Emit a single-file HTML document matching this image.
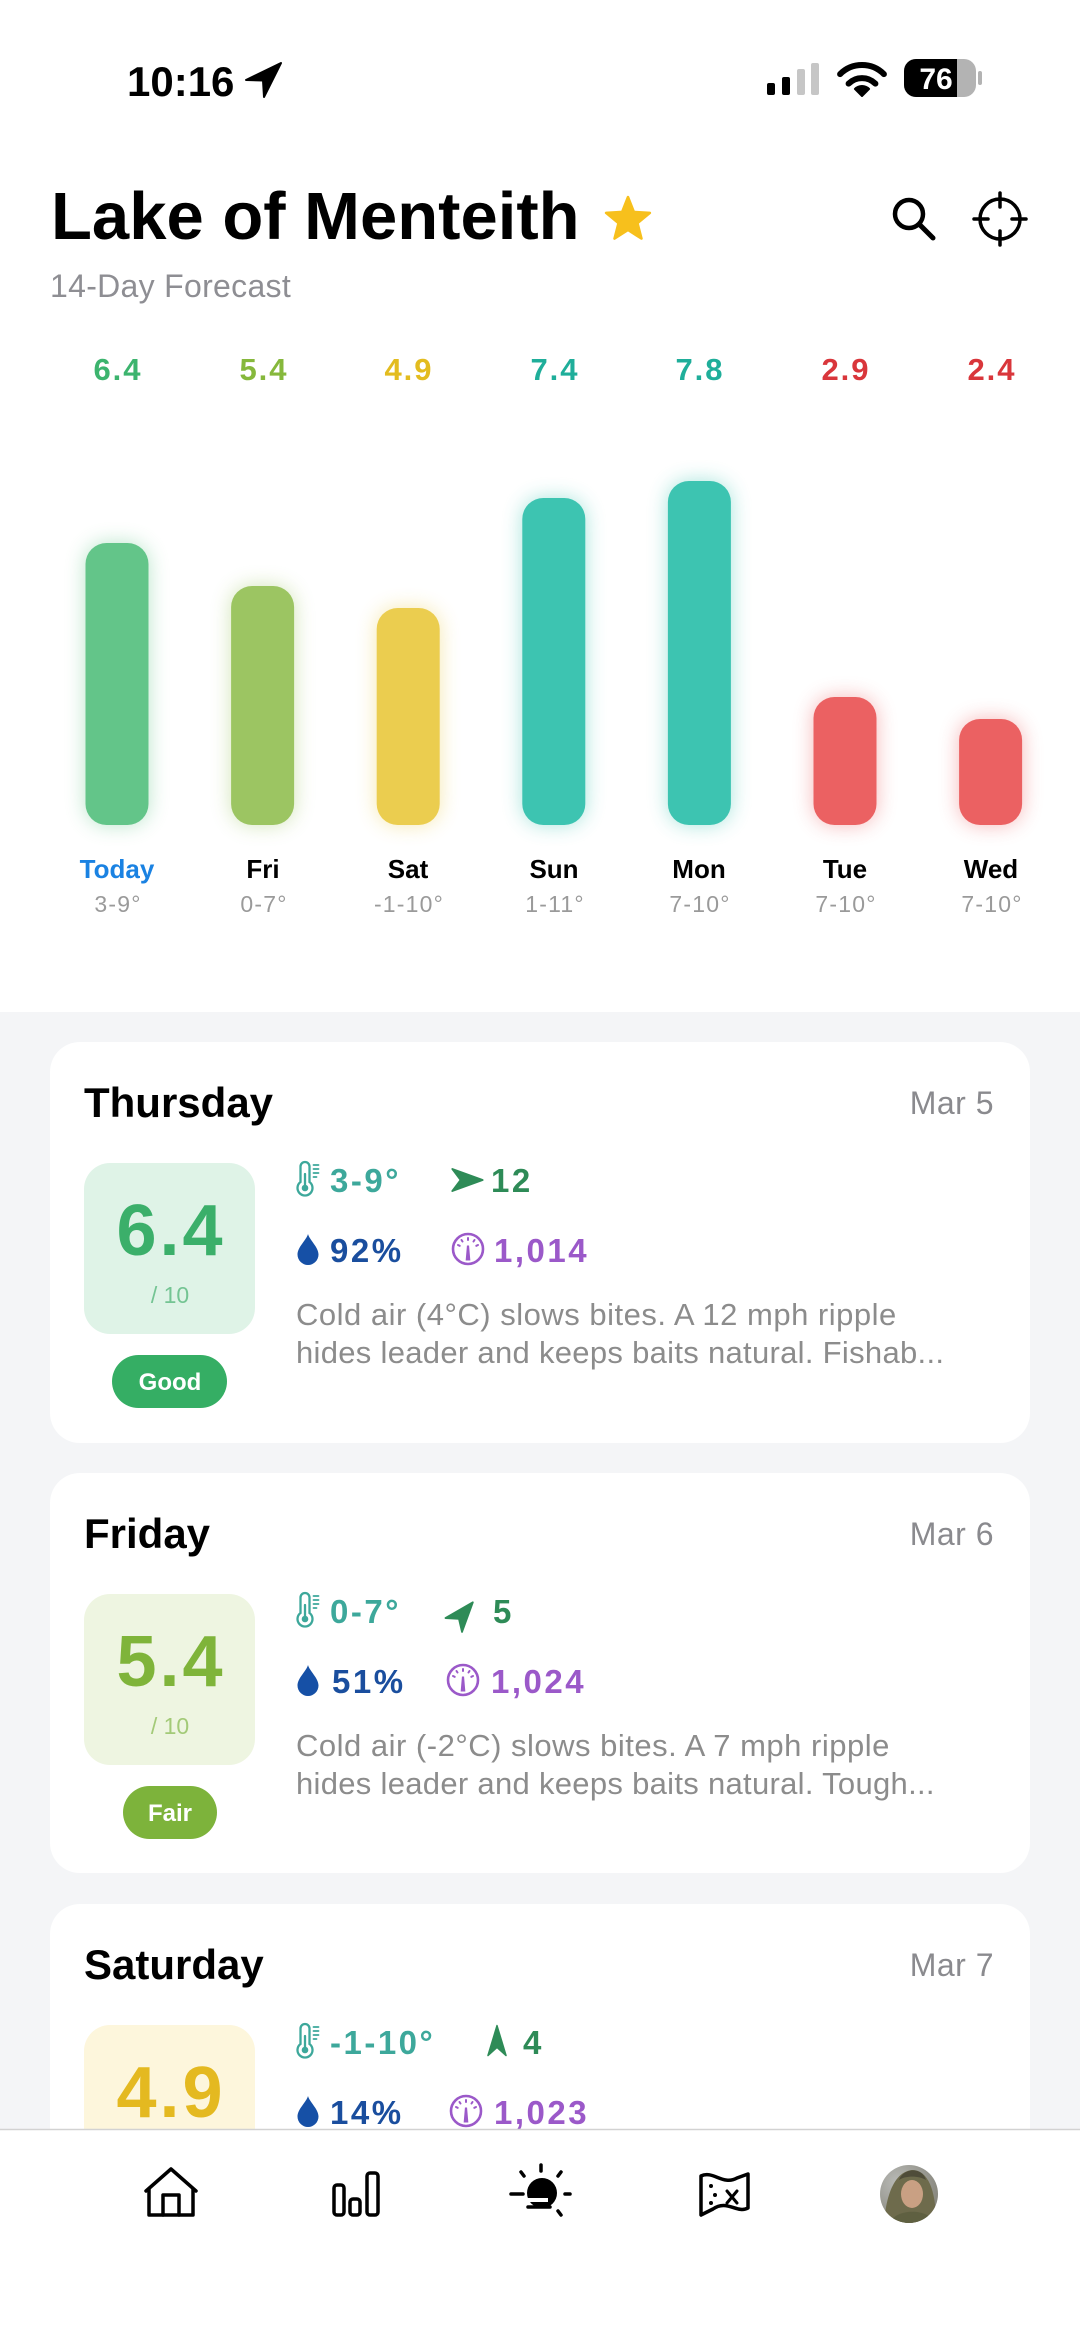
<!DOCTYPE html>
<html><head><meta charset="utf-8">
<style>
html,body{margin:0;padding:0;background:#fff;}
body{width:1080px;height:2346px;overflow:hidden;}
svg{display:block;}
text{font-family:"Liberation Sans",Arial,sans-serif;}
</style></head><body>
<svg width="1080" height="2346" viewBox="0 0 1080 2346" xmlns="http://www.w3.org/2000/svg">
<defs>
  <filter id="glow" x="-80%" y="-40%" width="260%" height="180%"><feGaussianBlur stdDeviation="10"/></filter>
  <clipPath id="bat"><rect x="904" y="59" width="53" height="38"/></clipPath>
  <clipPath id="av"><circle cx="909" cy="2194" r="29"/></clipPath>
  <radialGradient id="avbg" cx="0.3" cy="0.3" r="0.9">
    <stop offset="0" stop-color="#b9bab6"/><stop offset="1" stop-color="#7d7c72"/>
  </radialGradient>
  <g id="thermo" fill="none" stroke="#3DA89B" stroke-width="2.3" stroke-linecap="round">
    <path d="M3.5,20 V4.5 A4.5,4.5 0 0 1 12.5,4.5 V20 A7.5,7.5 0 1 1 3.5,20 Z"/>
    <line x1="8" y1="12" x2="8" y2="25"/>
    <circle cx="8" cy="26" r="3.3" fill="#3DA89B" stroke="none"/>
    <line x1="16.5" y1="3" x2="21.5" y2="3" stroke-width="1.8"/>
    <line x1="16.5" y1="7" x2="21.5" y2="7" stroke-width="1.8"/>
    <line x1="16.5" y1="11" x2="21.5" y2="11" stroke-width="1.8"/>
    <line x1="16.5" y1="15" x2="19.5" y2="15" stroke-width="1.8"/>
  </g>
  <path id="drop" d="M10.5,0 C12,6 21,13 21,20.5 A10.5,10.5 0 0 1 0,20.5 C0,13 9,6 10.5,0 Z" fill="#1650A6"/>
  <path id="arrow" d="M-16,-12 L17,0 L-16,12 L-7,0 Z" fill="#2E8B57" stroke="#2E8B57" stroke-width="2" stroke-linejoin="round"/>
  <g id="gauge" fill="none" stroke="#9B59C9" stroke-linecap="round">
    <circle cx="0" cy="0" r="15" stroke-width="2.6"/>
    <line x1="0" y1="-11" x2="0" y2="-9" stroke-width="2"/>
    <line x1="-6.5" y1="-9" x2="-5.5" y2="-7.5" stroke-width="2"/>
    <line x1="6.5" y1="-9" x2="5.5" y2="-7.5" stroke-width="2"/>
    <line x1="-10" y1="-4" x2="-8.3" y2="-3.2" stroke-width="2"/>
    <line x1="10" y1="-4" x2="8.3" y2="-3.2" stroke-width="2"/>
    <path d="M-1.8,11 L1.8,11 L0.6,-3 L-0.6,-3 Z" fill="#9B59C9" stroke-width="1"/>
  </g>
</defs>

<!-- white top area -->
<rect x="0" y="0" width="1080" height="1012" fill="#ffffff"/>

<!-- status bar -->
<text x="127" y="96" font-size="42" font-weight="bold" fill="#000">10:16</text>
<polygon points="281,63 246,80 263,80.5 264,97" fill="#000" stroke="#000" stroke-width="2" stroke-linejoin="round"/>
<rect x="767" y="83" width="8" height="12" rx="2" fill="#000"/>
<rect x="782" y="77" width="8" height="18" rx="2" fill="#000"/>
<rect x="797" y="69" width="8" height="26" rx="2" fill="#c6c6c6"/>
<rect x="811" y="63" width="8" height="32" rx="2" fill="#c6c6c6"/>
<path d="M840.1,74.1 A31,31 0 0 1 883.9,74.1" fill="none" stroke="#000" stroke-width="6" stroke-linecap="round"/>
<path d="M848.6,83.6 A19,19 0 0 1 875.4,83.6" fill="none" stroke="#000" stroke-width="6" stroke-linecap="round"/>
<path d="M862,96 L854.9,88.9 A10,10 0 0 1 869.1,88.9 Z" fill="#000" stroke="#000" stroke-width="2" stroke-linejoin="round"/>
<rect x="904" y="59" width="72" height="38" rx="12" fill="#b3b3b3"/>
<rect x="904" y="59" width="72" height="38" rx="12" fill="#000" clip-path="url(#bat)"/>
<rect x="978" y="71" width="4" height="14" rx="2" fill="#b3b3b3"/>
<text x="936" y="89" font-size="30" font-weight="bold" fill="#fff" text-anchor="middle">76</text>

<!-- header -->
<text x="51" y="239" font-size="67" font-weight="bold" fill="#000">Lake of Menteith</text>
<polygon points="628,197 633.9,211.9 649.9,212.9 637.5,223.1 641.5,238.6 628,230 614.5,238.6 618.5,223.1 606.1,212.9 622.1,211.9" fill="#F7C01C" stroke="#F7C01C" stroke-width="2.5" stroke-linejoin="round"/>
<circle cx="909" cy="214" r="14" fill="none" stroke="#000" stroke-width="4.5"/>
<line x1="919.5" y1="224.5" x2="933" y2="238" stroke="#000" stroke-width="5" stroke-linecap="round"/>
<circle cx="1000" cy="219" r="20" fill="none" stroke="#000" stroke-width="3.5"/>
<g stroke="#000" stroke-width="3.5" stroke-linecap="round">
  <line x1="1000" y1="193" x2="1000" y2="207"/>
  <line x1="1000" y1="231" x2="1000" y2="245"/>
  <line x1="974" y1="219" x2="988" y2="219"/>
  <line x1="1012" y1="219" x2="1026" y2="219"/>
</g>
<text x="50" y="297" font-size="32" fill="#8e8e93" letter-spacing="0.3">14-Day Forecast</text>

<!-- score numbers -->
<g font-size="31" font-weight="bold" text-anchor="middle" letter-spacing="2">
  <text x="118" y="380" fill="#3CB46E">6.4</text>
  <text x="264" y="380" fill="#86B83C">5.4</text>
  <text x="409" y="380" fill="#E3BC1F">4.9</text>
  <text x="555" y="380" fill="#1FAE9A">7.4</text>
  <text x="700" y="380" fill="#1FAE9A">7.8</text>
  <text x="846" y="380" fill="#D9363B">2.9</text>
  <text x="992" y="380" fill="#D9363B">2.4</text>
</g>

<!-- bars glow -->
<g filter="url(#glow)" opacity="0.45">
  <rect x="85.5" y="543" width="63" height="282" rx="21" fill="#63C589"/>
  <rect x="231.1" y="586" width="63" height="239" rx="21" fill="#9CC562"/>
  <rect x="376.7" y="608" width="63" height="217" rx="21" fill="#EBCD4F"/>
  <rect x="522.3" y="498" width="63" height="327" rx="21" fill="#3DC4B1"/>
  <rect x="667.9" y="481" width="63" height="344" rx="21" fill="#3DC4B1"/>
  <rect x="813.5" y="697" width="63" height="128" rx="21" fill="#EB6162"/>
  <rect x="959.1" y="719" width="63" height="106" rx="21" fill="#EB6162"/>
</g>
<rect x="85.5" y="543" width="63" height="282" rx="21" fill="#63C589"/>
<rect x="231.1" y="586" width="63" height="239" rx="21" fill="#9CC562"/>
<rect x="376.7" y="608" width="63" height="217" rx="21" fill="#EBCD4F"/>
<rect x="522.3" y="498" width="63" height="327" rx="21" fill="#3DC4B1"/>
<rect x="667.9" y="481" width="63" height="344" rx="21" fill="#3DC4B1"/>
<rect x="813.5" y="697" width="63" height="128" rx="21" fill="#EB6162"/>
<rect x="959.1" y="719" width="63" height="106" rx="21" fill="#EB6162"/>

<!-- day labels -->
<g font-size="26" font-weight="bold" text-anchor="middle">
  <text x="117" y="878" fill="#1A82E2">Today</text>
  <text x="263" y="878" fill="#000">Fri</text>
  <text x="408" y="878" fill="#000">Sat</text>
  <text x="554" y="878" fill="#000">Sun</text>
  <text x="699" y="878" fill="#000">Mon</text>
  <text x="845" y="878" fill="#000">Tue</text>
  <text x="991" y="878" fill="#000">Wed</text>
</g>
<g font-size="23" text-anchor="middle" fill="#9a9a9a" letter-spacing="1.2">
  <text x="118" y="912">3-9°</text>
  <text x="264" y="912">0-7°</text>
  <text x="409" y="912">-1-10°</text>
  <text x="555" y="912">1-11°</text>
  <text x="700" y="912">7-10°</text>
  <text x="846" y="912">7-10°</text>
  <text x="992" y="912">7-10°</text>
</g>

<!-- gray area -->
<rect x="0" y="1012" width="1080" height="1334" fill="#F4F5F7"/>

<!-- Card 1 -->
<rect x="50" y="1042" width="980" height="401" rx="30" fill="#fff"/>
<text x="84" y="1117" font-size="42" font-weight="bold" fill="#000">Thursday</text>
<text x="994" y="1114" font-size="32" fill="#8a8a8e" text-anchor="end" letter-spacing="0.5">Mar 5</text>
<rect x="84" y="1163" width="171" height="171" rx="26" fill="#DFF3E7"/>
<text x="171" y="1255" font-size="72" font-weight="bold" fill="#3BAF6A" text-anchor="middle" letter-spacing="3">6.4</text>
<text x="170" y="1303" font-size="23" fill="#74C493" text-anchor="middle">/ 10</text>
<rect x="112" y="1355" width="115" height="53" rx="26.5" fill="#35AE64"/>
<text x="170" y="1390" font-size="24" font-weight="bold" fill="#fff" text-anchor="middle">Good</text>
<use href="#thermo" x="297" y="1162"/>
<text x="330" y="1192" font-size="33" font-weight="bold" fill="#3DA89B" letter-spacing="2.5">3-9°</text>
<use href="#arrow" transform="translate(467,1180) scale(0.92)"/>
<text x="491" y="1192" font-size="33" font-weight="bold" fill="#2E8B57" letter-spacing="2.5">12</text>
<use href="#drop" x="297.5" y="1234"/>
<text x="330" y="1262" font-size="33" font-weight="bold" fill="#1A4E9E" letter-spacing="2.5">92%</text>
<use href="#gauge" transform="translate(468,1249)"/>
<text x="494" y="1262" font-size="33" font-weight="bold" fill="#9B59C9" letter-spacing="2.5">1,014</text>
<text x="296" y="1325" font-size="31" fill="#8c8c8c" letter-spacing="0.5">Cold air (4°C) slows bites. A 12 mph ripple</text>
<text x="296" y="1363" font-size="31" fill="#8c8c8c" letter-spacing="0.3">hides leader and keeps baits natural. Fishab...</text>

<!-- Card 2 -->
<rect x="50" y="1473" width="980" height="400" rx="30" fill="#fff"/>
<text x="84" y="1548" font-size="42" font-weight="bold" fill="#000">Friday</text>
<text x="994" y="1545" font-size="32" fill="#8a8a8e" text-anchor="end" letter-spacing="0.5">Mar 6</text>
<rect x="84" y="1594" width="171" height="171" rx="26" fill="#EEF5E1"/>
<text x="171" y="1686" font-size="72" font-weight="bold" fill="#7FB43A" text-anchor="middle" letter-spacing="3">5.4</text>
<text x="170" y="1734" font-size="23" fill="#A3CA78" text-anchor="middle">/ 10</text>
<rect x="123" y="1786" width="94" height="53" rx="26.5" fill="#7DB33B"/>
<text x="170" y="1821" font-size="24" font-weight="bold" fill="#fff" text-anchor="middle">Fair</text>
<use href="#thermo" x="297" y="1593"/>
<text x="330" y="1623" font-size="33" font-weight="bold" fill="#3DA89B" letter-spacing="2.5">0-7°</text>
<use href="#arrow" transform="translate(463,1614) rotate(-50) scale(0.9)"/>
<text x="493" y="1623" font-size="33" font-weight="bold" fill="#2E8B57" letter-spacing="2.5">5</text>
<use href="#drop" x="297.5" y="1665"/>
<text x="332" y="1693" font-size="33" font-weight="bold" fill="#1A4E9E" letter-spacing="2.5">51%</text>
<use href="#gauge" transform="translate(463,1680)"/>
<text x="491" y="1693" font-size="33" font-weight="bold" fill="#9B59C9" letter-spacing="2.5">1,024</text>
<text x="296" y="1756" font-size="31" fill="#8c8c8c" letter-spacing="0.5">Cold air (-2°C) slows bites. A 7 mph ripple</text>
<text x="296" y="1794" font-size="31" fill="#8c8c8c" letter-spacing="0.3">hides leader and keeps baits natural. Tough...</text>

<!-- Card 3 -->
<rect x="50" y="1904" width="980" height="400" rx="30" fill="#fff"/>
<text x="84" y="1979" font-size="42" font-weight="bold" fill="#000">Saturday</text>
<text x="994" y="1976" font-size="32" fill="#8a8a8e" text-anchor="end" letter-spacing="0.5">Mar 7</text>
<rect x="84" y="2025" width="171" height="171" rx="26" fill="#FDF6DC"/>
<text x="171" y="2117" font-size="72" font-weight="bold" fill="#E4B920" text-anchor="middle" letter-spacing="3">4.9</text>
<use href="#thermo" x="297" y="2024"/>
<text x="330" y="2054" font-size="33" font-weight="bold" fill="#3DA89B" letter-spacing="2.5">-1-10°</text>
<use href="#arrow" transform="translate(497,2041) rotate(-90) scale(0.9,0.75)"/>
<text x="523" y="2054" font-size="33" font-weight="bold" fill="#2E8B57" letter-spacing="2.5">4</text>
<use href="#drop" x="297.5" y="2096"/>
<text x="330" y="2124" font-size="33" font-weight="bold" fill="#1A4E9E" letter-spacing="2.5">14%</text>
<use href="#gauge" transform="translate(466,2111)"/>
<text x="494" y="2124" font-size="33" font-weight="bold" fill="#9B59C9" letter-spacing="2.5">1,023</text>

<!-- tab bar -->
<rect x="0" y="2129" width="1080" height="217" fill="#fff"/>
<line x1="0" y1="2129.5" x2="1080" y2="2129.5" stroke="#d2d2d2" stroke-width="1.5"/>
<g fill="none" stroke="#000" stroke-width="3.5" stroke-linejoin="round" stroke-linecap="round">
  <path d="M146,2191 L171,2169 L196,2191"/>
  <path d="M149,2189 V2215 H193 V2189"/>
  <path d="M163,2215 V2195 H179 V2215"/>
  <rect x="334" y="2185" width="10" height="30" rx="3"/>
  <rect x="350" y="2199" width="10" height="16" rx="3"/>
  <rect x="367" y="2173" width="11" height="42" rx="3"/>
  <path d="M701,2176 C713,2170 723,2186 737,2178 L748,2174 L748,2208 C737,2214 727,2199 713,2209 L701,2215 Z"/>
</g>
<g fill="#000">
  <circle cx="711" cy="2186" r="2"/>
  <circle cx="715" cy="2195" r="2"/>
  <circle cx="711" cy="2203" r="2"/>
</g>
<g stroke="#000" stroke-width="3" stroke-linecap="round">
  <line x1="727" y1="2191" x2="737" y2="2203"/>
  <line x1="737" y1="2191" x2="727" y2="2203"/>
</g>
<circle cx="542" cy="2193" r="15" fill="#000"/>
<line x1="518" y1="2200" x2="548" y2="2200" stroke="#fff" stroke-width="4"/>
<g stroke="#000" stroke-width="3.5" stroke-linecap="round">
  <line x1="511" y1="2194" x2="523" y2="2194"/>
  <line x1="528" y1="2207" x2="550" y2="2207"/>
  <line x1="541" y1="2165" x2="541" y2="2171"/>
  <line x1="521" y1="2172" x2="524" y2="2176"/>
  <line x1="561" y1="2172" x2="558" y2="2176"/>
  <line x1="565" y1="2194" x2="570" y2="2194"/>
  <line x1="558" y1="2211" x2="561" y2="2215"/>
</g>
<g clip-path="url(#av)">
  <rect x="880" y="2165" width="58" height="58" fill="url(#avbg)"/>
  <path d="M884,2223 C886,2196 894,2172 912,2170 C928,2170 936,2190 936,2223 Z" fill="#6e6b4c"/>
  <ellipse cx="912" cy="2194" rx="11" ry="14" fill="#c9a083"/>
  <path d="M899,2180 C903,2168 922,2166 926,2180 C920,2176 906,2175 899,2180 Z" fill="#4f4c39"/>
  <path d="M890,2223 C895,2208 930,2208 934,2223 Z" fill="#5f6041"/>
</g>
</svg>
</body></html>
